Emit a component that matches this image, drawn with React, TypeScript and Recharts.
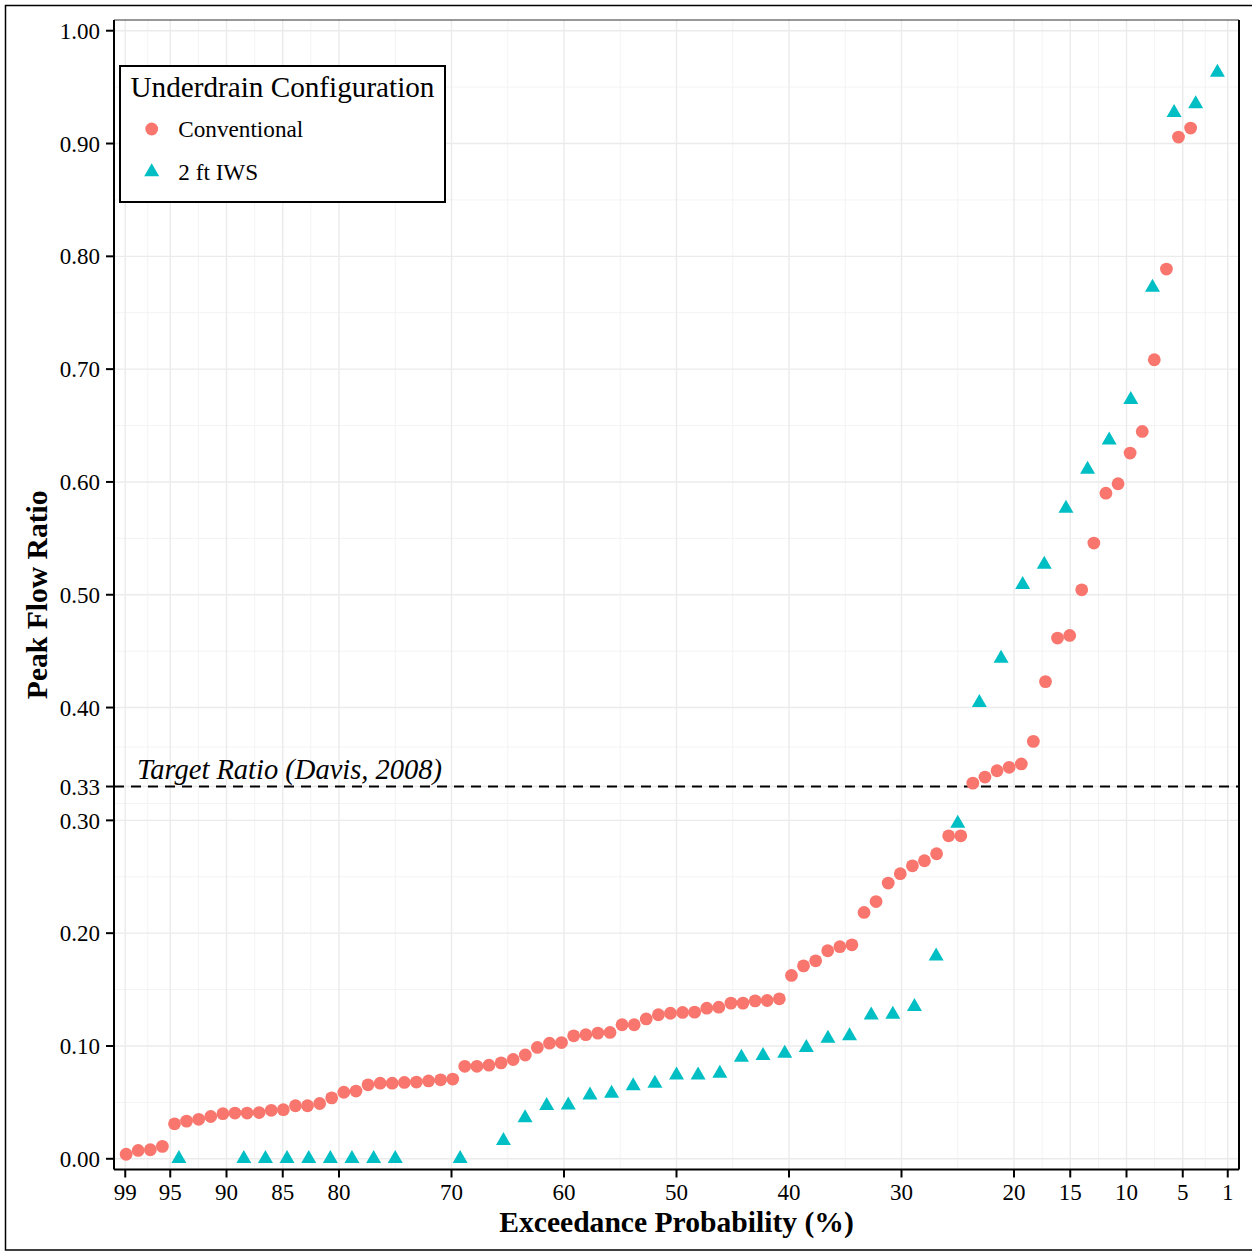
import React from 'react';
import { ScatterChart, Scatter, XAxis, YAxis, CartesianGrid, ReferenceLine } from 'recharts';

// Exceedance probability (%) and peak flow ratio, Conventional underdrain
const convP = [
  98.92, 97.85, 96.77, 95.7, 94.62, 93.55, 92.47, 91.4, 90.32, 89.25,
  88.17, 87.1, 86.02, 84.95, 83.87, 82.8, 81.72, 80.65, 79.57, 78.49,
  77.42, 76.34, 75.27, 74.19, 73.12, 72.04, 70.97, 69.89, 68.82, 67.74,
  66.67, 65.59, 64.52, 63.44, 62.37, 61.29, 60.22, 59.14, 58.06, 56.99,
  55.91, 54.84, 53.76, 52.69, 51.61, 50.54, 49.46, 48.39, 47.31, 46.24,
  45.16, 44.09, 43.01, 41.94, 40.86, 39.78, 38.71, 37.63, 36.56, 35.48,
  34.41, 33.33, 32.26, 31.18, 30.11, 29.03, 27.96, 26.88, 25.81, 24.73,
  23.66, 22.58, 21.51, 20.43, 19.35, 18.28, 17.2, 16.13, 15.05, 13.98,
  12.9, 11.83, 10.75, 9.68, 8.6, 7.53, 6.45, 5.38, 4.3,
];
const convRatio = [
  0.004, 0.0074, 0.008, 0.011, 0.031, 0.0334, 0.035, 0.0375, 0.04, 0.0405,
  0.0405, 0.041, 0.043, 0.0435, 0.047, 0.047, 0.049, 0.054, 0.059, 0.06,
  0.0656, 0.067, 0.067, 0.0677, 0.068, 0.069, 0.07, 0.0707, 0.082, 0.082,
  0.083, 0.085, 0.088, 0.092, 0.0987, 0.1025, 0.103, 0.109, 0.11, 0.1114,
  0.112, 0.1188, 0.1188, 0.124, 0.1277, 0.129, 0.1297, 0.13, 0.1335, 0.1344,
  0.138, 0.138, 0.14, 0.1403, 0.1418, 0.1625, 0.171, 0.1755, 0.1844, 0.188,
  0.1897, 0.2184, 0.228, 0.2444, 0.2527, 0.2597, 0.2642, 0.2704, 0.2863, 0.2863,
  0.333, 0.3384, 0.344, 0.347, 0.35, 0.37, 0.423, 0.4616, 0.4639, 0.5044,
  0.5458, 0.59, 0.5984, 0.6256, 0.6448, 0.7083, 0.7887, 0.9057, 0.9137,
];

// 2 ft IWS underdrain
const iwsP = [
  94.23, 88.46, 86.54, 84.62, 82.69, 80.77, 78.85, 76.92, 75.0, 69.23,
  65.38, 63.46, 61.54, 59.62, 57.69, 55.77, 53.85, 51.92, 50.0, 48.08,
  46.15, 44.23, 42.31, 40.38, 38.46, 36.54, 34.62, 32.69, 30.77, 28.85,
  26.92, 25.0, 23.08, 21.15, 19.23, 17.31, 15.38, 13.46, 11.54, 9.62,
  7.69, 5.77, 3.85, 1.92,
];
const iwsRatio = [
  0, 0, 0, 0, 0, 0, 0, 0, 0, 0,
  0.016, 0.0363, 0.047, 0.0476, 0.0565, 0.058, 0.0647, 0.0668, 0.0742, 0.0742,
  0.0756, 0.0898, 0.0913, 0.0934, 0.0984, 0.1067, 0.109, 0.1274, 0.128, 0.1348,
  0.1797, 0.2973, 0.4043, 0.4435, 0.509, 0.527, 0.5765, 0.611, 0.637, 0.673,
  0.7724, 0.9273, 0.935, 0.963,
];

const xTicks = [99, 95, 90, 85, 80, 70, 60, 50, 40, 30, 20, 15, 10, 5, 1];
const xMinor = [97, 92.5, 87.5, 82.5, 75, 65, 55, 45, 35, 25, 17.5, 12.5, 7.5, 3];
const yTicks = [0, 0.1, 0.2, 0.3, 0.33, 0.4, 0.5, 0.6, 0.7, 0.8, 0.9, 1.0];
const yMinor = [0.05, 0.15, 0.25, 0.315, 0.365, 0.45, 0.55, 0.65, 0.75, 0.85, 0.95];
const targetRatio = 0.33;

const seriesNames = ['Conventional', '2 ft IWS'];
const colors = ['#F8766D', '#00BFC4'];

const convData = convP.map((p, i) => ({ p, r: convRatio[i] }));
const iwsData = iwsP.map((p, i) => ({ p, r: iwsRatio[i] }));

const FONT = "'Liberation Serif', 'Times New Roman', serif";

const TRI_W = 15;
const TRI_H = 13;

const CircleShape = (props: any) => {
  const { cx, cy } = props;
  if (cx == null || cy == null) return null;
  return <circle cx={cx} cy={cy} r={6.4} fill={colors[0]} />;
};

const triPoints = (cx: number, cy: number) =>
  `${cx},${cy - (2 * TRI_H) / 3} ${cx - TRI_W / 2},${cy + TRI_H / 3} ${cx + TRI_W / 2},${cy + TRI_H / 3}`;

const TriangleShape = (props: any) => {
  const { cx, cy } = props;
  if (cx == null || cy == null) return null;
  return <polygon points={triPoints(cx, cy)} fill={colors[1]} />;
};

const tickStyle = { fill: '#000', fontSize: 23, fontFamily: FONT };

export default function App() {
  return (
    <div style={{ position: 'absolute', left: 0, top: 0, width: 1252, height: 1252, background: '#fff' }}>
      <ScatterChart width={1252} height={1252} margin={{ top: 20, right: 13, bottom: 0, left: 0 }}>
        <CartesianGrid
          stroke="#f3f3f3"
          strokeWidth={1}
          horizontalValues={yMinor}
          verticalValues={xMinor}
        />
        <CartesianGrid
          stroke="#ebebeb"
          strokeWidth={1.4}
          horizontalValues={yTicks}
          verticalValues={xTicks}
        />
        <XAxis
          type="number"
          dataKey="p"
          domain={[0, 100]}
          reversed
          allowDataOverflow
          ticks={xTicks}
          interval={0}
          height={82.5}
          tickSize={8}
          tickMargin={6}
          tick={tickStyle}
          axisLine={{ stroke: '#000', strokeWidth: 2 }}
          tickLine={{ stroke: '#000', strokeWidth: 2 }}
          label={(props: any) => {
            const vb = props.viewBox || {};
            return (
              <text
                x={vb.x + vb.width / 2}
                y={vb.y + 62.5}
                textAnchor="middle"
                fontFamily={FONT}
                fontWeight="bold"
                fontSize={29.6}
                fill="#000"
              >
                Exceedance Probability (%)
              </text>
            );
          }}
        />
        <YAxis
          type="number"
          dataKey="r"
          domain={[-0.0095, 1.0095]}
          allowDataOverflow
          ticks={yTicks}
          interval={0}
          width={114}
          tickSize={8}
          tickMargin={6}
          tick={tickStyle}
          tickFormatter={(v: number) => v.toFixed(2)}
          axisLine={{ stroke: '#000', strokeWidth: 2 }}
          tickLine={{ stroke: '#000', strokeWidth: 2 }}
          label={(props: any) => {
            const vb = props.viewBox || {};
            const x = vb.x + 47;
            const y = vb.y + vb.height / 2;
            return (
              <text
                x={x}
                y={y}
                transform={`rotate(-90 ${x} ${y})`}
                textAnchor="middle"
                fontFamily={FONT}
                fontWeight="bold"
                fontSize={29.6}
                fill="#000"
              >
                Peak Flow Ratio
              </text>
            );
          }}
        />
        <ReferenceLine y={1.0095} stroke="#333" strokeWidth={1.2} ifOverflow="visible" />
        <ReferenceLine x={0} stroke="#000" strokeWidth={2} ifOverflow="visible" />
        <ReferenceLine
          y={targetRatio}
          stroke="#000"
          strokeWidth={2.2}
          strokeDasharray="10 7"
          label={(props: any) => {
            const vb = props.viewBox || {};
            return (
              <text
                x={vb.x + 23}
                y={vb.y - 8}
                fontFamily={FONT}
                fontStyle="italic"
                fontSize={28.5}
                fill="#000"
              >
                Target Ratio (Davis, 2008)
              </text>
            );
          }}
        />
        <Scatter name={seriesNames[0]} data={convData} fill={colors[0]} shape={CircleShape} isAnimationActive={false} />
        <Scatter name={seriesNames[1]} data={iwsData} fill={colors[1]} shape={TriangleShape} isAnimationActive={false} />
      </ScatterChart>
      <svg
        width={1252}
        height={1252}
        style={{ position: 'absolute', left: 0, top: 0, pointerEvents: 'none' }}
      >
        <rect x={5.5} y={5.5} width={1252} height={1244.5} fill="none" stroke="#000" strokeWidth={1.5} />
        <rect x={120} y={66} width={325} height={136} fill="#fff" stroke="#000" strokeWidth={2} />
        <text x={130.5} y={97.3} fontFamily={FONT} fontSize={29.2} fill="#000">
          Underdrain Configuration
        </text>
        <circle cx={151.7} cy={129} r={6.4} fill={colors[0]} />
        <text x={178.3} y={136.7} fontFamily={FONT} fontSize={23.2} fill="#000">
          {seriesNames[0]}
        </text>
        <polygon points={triPoints(151.7, 172)} fill={colors[1]} />
        <text x={178.3} y={180} fontFamily={FONT} fontSize={23.2} fill="#000">
          {seriesNames[1]}
        </text>
      </svg>
    </div>
  );
}
